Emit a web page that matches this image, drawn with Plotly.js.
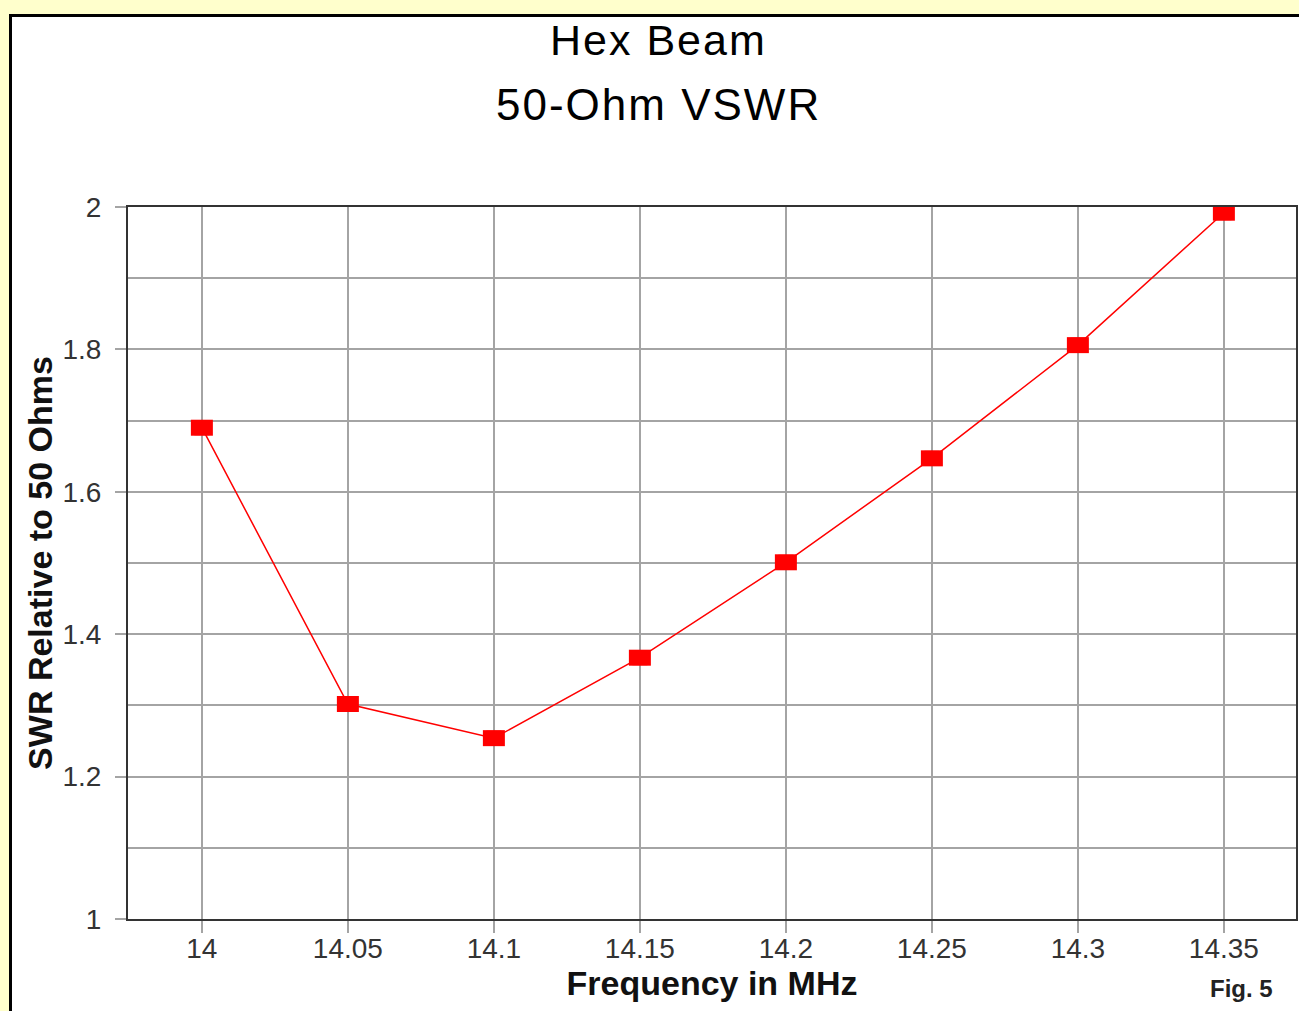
<!DOCTYPE html>
<html>
<head>
<meta charset="utf-8">
<script src="https://cdn.plot.ly/plotly-3.0.1.min.js"></script>
<style>
  html, body { margin: 0; padding: 0; background: #FFFFCC; }
  #page { position: relative; width: 1299px; height: 1011px; background: #FFFFCC; overflow: hidden; }
  #panel { position: absolute; left: 9px; top: 14px; width: 1300px; height: 1010px;
           background: #ffffff; border-left: 3px solid #000; border-top: 3px solid #000; }
  #chart { position: absolute; left: 0; top: 0; width: 1299px; height: 1011px; }
  /* slightly tracked two-line heading */
  g.annotation[data-index="0"] text, g.annotation[data-index="1"] text { letter-spacing: 2px; }
</style>
</head>
<body>
<div id="page">
  <div id="panel"></div>
  <div id="chart"></div>
</div>
<script>
// Measured SWR across the 20 m band
const freqMHz = [14, 14.05, 14.1, 14.15, 14.2, 14.25, 14.3, 14.35];
const swr     = [1.69, 1.302, 1.254, 1.367, 1.501, 1.647, 1.806, 1.992];

// Axis ticks
const xTickVals  = [14, 14.05, 14.1, 14.15, 14.2, 14.25, 14.3, 14.35];
const xTickText  = ['14', '14.05', '14.1', '14.15', '14.2', '14.25', '14.3', '14.35'];
const yTickVals  = [1, 1.2, 1.4, 1.6, 1.8, 2];
const yTickText  = ['1', '1.2', '1.4', '1.6', '1.8', '2'];
const yMinorVals = [1.1, 1.3, 1.5, 1.7, 1.9];

// Heading lines
const headingLines = ['Hex Beam', '50-Ohm VSWR'];

const RED = '#FF0000';
const GRID = '#A4A4A4';
const FRAME = '#333333';
const FONT = 'Liberation Sans, Arial, sans-serif';

const trace = {
  x: freqMHz,
  y: swr,
  type: 'scatter',
  mode: 'lines+markers',
  line: { color: RED, width: 1.5 },
  marker: { symbol: 'square', size: 15, color: RED, line: { width: 0 } },
  hoverinfo: 'x+y',
  showlegend: false
};

// Wide rectangular point markers, anchored on each data point
const markerShapes = freqMHz.map((f, i) => ({
  type: 'rect',
  xref: 'x', yref: 'y',
  xsizemode: 'pixel', ysizemode: 'pixel',
  xanchor: f, yanchor: swr[i],
  x0: -11, x1: 11, y0: -8, y1: 8,
  fillcolor: RED,
  line: { width: 0 },
  layer: 'above'
}));

const layout = {
  width: 1299,
  height: 1011,
  margin: { l: 128, r: 3, t: 207, b: 92, pad: 0 },
  paper_bgcolor: 'rgba(0,0,0,0)',
  plot_bgcolor: '#ffffff',
  font: { family: FONT, color: '#333333' },
  showlegend: false,
  xaxis: {
    range: [13.9747, 14.3747],
    tickmode: 'array',
    tickvals: xTickVals,
    ticktext: xTickText,
    showgrid: true,
    gridcolor: GRID,
    gridwidth: 2,
    zeroline: false,
    ticks: 'outside',
    ticklen: 12,
    tickwidth: 2,
    tickcolor: GRID,
    tickfont: { family: FONT, size: 28, color: '#333333' },
    ticklabelstandoff: -9,
    showline: true,
    mirror: true,
    linecolor: FRAME,
    linewidth: 2,
    title: {
      text: 'Frequency in MHz',
      font: { family: FONT, size: 34, color: '#111111', weight: 'bold' },
      standoff: 0
    }
  },
  yaxis: {
    range: [1, 2],
    tickmode: 'array',
    tickvals: yTickVals,
    ticktext: yTickText,
    showgrid: true,
    gridcolor: GRID,
    gridwidth: 2,
    zeroline: false,
    ticks: 'outside',
    ticklen: 11,
    tickwidth: 2,
    tickcolor: GRID,
    tickfont: { family: FONT, size: 28, color: '#333333' },
    ticklabelstandoff: 8,
    minor: {
      tickmode: 'array',
      tickvals: yMinorVals,
      showgrid: true,
      gridcolor: GRID,
      gridwidth: 2,
      ticks: ''
    },
    showline: true,
    mirror: true,
    linecolor: FRAME,
    linewidth: 2,
    title: {
      text: 'SWR Relative to 50 Ohms',
      font: { family: FONT, size: 34, color: '#111111', weight: 'bold' },
      standoff: 0
    }
  },
  shapes: markerShapes,
  annotations: [
    {
      text: headingLines[0],
      xref: 'paper', yref: 'paper',
      x: 0.4546, y: 1 + (207 - 40) / 712,
      xanchor: 'center', yanchor: 'middle',
      showarrow: false,
      font: { family: FONT, size: 43, color: '#000000' }
    },
    {
      text: headingLines[1],
      xref: 'paper', yref: 'paper',
      x: 0.4546, y: 1 + (207 - 104) / 712,
      xanchor: 'center', yanchor: 'middle',
      showarrow: false,
      font: { family: FONT, size: 44, color: '#000000' }
    },
    {
      text: 'Fig. 5',
      xref: 'paper', yref: 'paper',
      x: (1241 - 128) / 1168, y: 1 + (207 - 988) / 712,
      xanchor: 'center', yanchor: 'middle',
      showarrow: false,
      font: { family: FONT, size: 24, color: '#222222', weight: 'bold' }
    }
  ]
};

Plotly.newPlot('chart', [trace], layout, { displayModeBar: false, responsive: false });
</script>
</body>
</html>
